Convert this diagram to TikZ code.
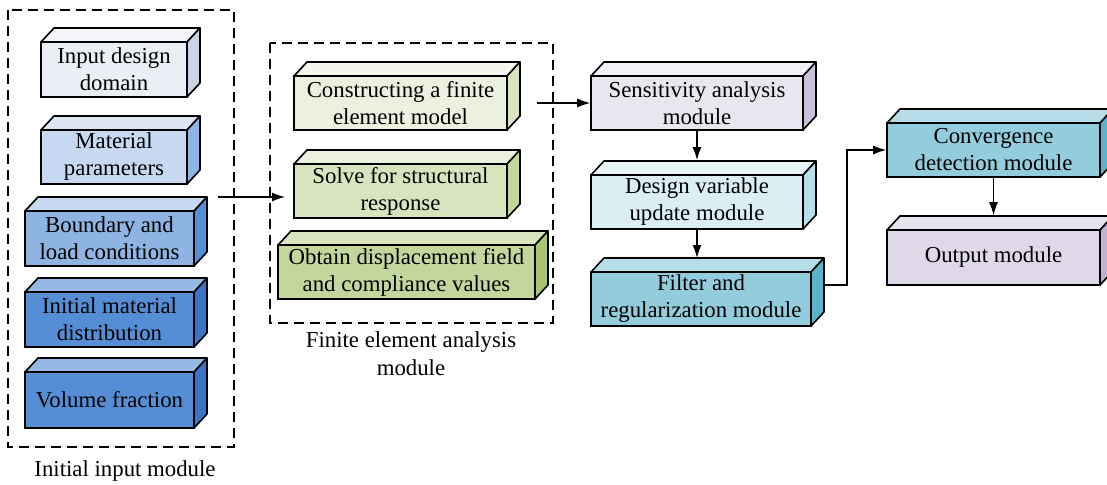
\documentclass[tikz,border=0pt]{standalone}
\usepackage{fontspec}
\setmainfont{Liberation Serif}
\usetikzlibrary{arrows.meta}
\definecolor{inAF}{HTML}{EAEEF5}\definecolor{inAT}{HTML}{F3F5FA}\definecolor{inAS}{HTML}{C9D4E4}
\definecolor{inBF}{HTML}{C6D9F0}\definecolor{inBT}{HTML}{DCE6F4}\definecolor{inBS}{HTML}{8EB4E3}
\definecolor{inCF}{HTML}{8EB4E3}\definecolor{inCT}{HTML}{C6D9F0}\definecolor{inCS}{HTML}{558ED5}
\definecolor{inDF}{HTML}{558ED5}\definecolor{inDT}{HTML}{95B8E4}\definecolor{inDS}{HTML}{3A74C4}
\definecolor{feAF}{HTML}{EBF1DE}\definecolor{feAT}{HTML}{F3F7EB}\definecolor{feAS}{HTML}{D7E4BD}
\definecolor{feBF}{HTML}{D7E4BD}\definecolor{feBT}{HTML}{EBF1DE}\definecolor{feBS}{HTML}{C3D69B}
\definecolor{feCF}{HTML}{C3D69B}\definecolor{feCT}{HTML}{D7E4BD}\definecolor{feCS}{HTML}{A9C472}
\definecolor{saF}{HTML}{EAE6F0}\definecolor{saT}{HTML}{F3F1F7}\definecolor{saS}{HTML}{CCC1DA}
\definecolor{dvF}{HTML}{DBEEF4}\definecolor{dvT}{HTML}{EAF5F8}\definecolor{dvS}{HTML}{B7DEE8}
\definecolor{frF}{HTML}{93CDDD}\definecolor{frT}{HTML}{B7DEE8}\definecolor{frS}{HTML}{5BB3CB}
\definecolor{omF}{HTML}{DED8E8}\definecolor{omT}{HTML}{E8E4EF}\definecolor{omS}{HTML}{BFB1D2}
\tikzset{
  cubefront/.style={draw=black, line width=1.6pt, inner sep=0pt, align=center,
    font=\fontsize{22.8}{27}\selectfont},
  cubeedge/.style={draw=black, line width=1.6pt, line join=round},
  groupbox/.style={draw=black, line width=1.6pt, dash pattern=on 10pt off 6pt},
  link/.style={draw=black, line width=1.3pt, -{Latex[length=13pt,width=9pt]}},
  caption/.style={font=\fontsize{22.8}{28}\selectfont, align=center}
}
% #1 name, #2 centre, #3 width, #4 height, #5 colour prefix, #6 text
\newcommand\cubebox[6]{%
  \draw[cubeedge, fill=#5T] (#2)++(-#3/2,-#4/2) -- ++(13,-14) -- ++(#3,0) -- ++(-13,14) -- cycle;
  \draw[cubeedge, fill=#5S] (#2)++(#3/2,-#4/2) -- ++(13,-14) -- ++(0,#4) -- ++(-13,14) -- cycle;
  \node[cubefront, fill=#5F, minimum width=#3pt, minimum height=#4pt] (#1) at (#2) {#6};
}
\begin{document}
\begin{tikzpicture}[x=1pt,y=-1pt]
\useasboundingbox (0,0) rectangle (1107,484);
% group frames
\draw[groupbox] (8,10) rectangle (234,447);
\draw[groupbox] (270,43) rectangle (553,323);
% input module
\cubebox{inA}{114,69.5}{146}{55}{inA}{Input design\\domain}
\cubebox{inB}{114,157}{146}{54}{inB}{Material\\parameters}
\cubebox{inC}{109.5,238.5}{169}{55}{inC}{Boundary and\\load conditions}
\cubebox{inD}{109.5,319.5}{169}{55}{inD}{Initial material\\distribution}
\cubebox{inE}{109.5,400}{169}{56}{inD}{Volume fraction}
\node[caption] (capin) at (125,471) {Initial input module};
% FEA module
\cubebox{feA}{400.5,103}{213}{54}{feA}{Constructing a finite\\element model}
\cubebox{feB}{400.5,191}{213}{54}{feB}{Solve for structural\\response}
\cubebox{feC}{406.5,272}{257}{54}{feC}{Obtain displacement field\\and compliance values}
\node[caption] (capfe) at (411,354) {Finite element analysis\\module};
% right column
\cubebox{sa}{697,103}{212}{54}{sa}{Sensitivity analysis\\module}
\cubebox{dv}{697,202}{212}{54}{dv}{Design variable\\update module}
\cubebox{fr}{701,299}{220}{54}{fr}{Filter and\\regularization module}
\cubebox{cd}{993.5,150}{213}{54}{fr}{Convergence\\detection module}
\cubebox{om}{993.5,257.5}{213}{55}{om}{Output module}
% connectors
\coordinate (inOut) at (218,197);
\coordinate (feIn) at (285,197);
\coordinate (feOut) at (537,103);
\coordinate (frTop) at (697,258);
\coordinate (elbow) at (847,150);
\draw[link] (inOut) -- (feIn);
\draw[link] (feOut) -- (sa.west);
\draw[link] (sa.south) -- ([yshift=14pt]dv.north);
\draw[link] (dv.south) -- (frTop);
\draw[link] ([xshift=13pt,yshift=14pt]fr.east) -| (elbow) -- (cd.west);
\draw[link] (cd.south) -- ([yshift=14pt]om.north);
\end{tikzpicture}
\end{document}
